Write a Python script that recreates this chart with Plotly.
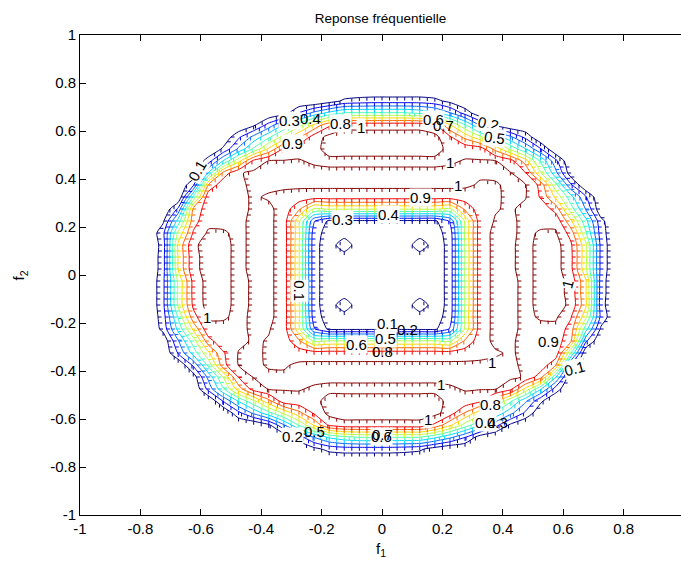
import plotly.graph_objects as go

# Frequency grid (normalised frequencies), cell centres every 0.05
f1 = [round(-0.775 + 0.05 * k, 3) for k in range(32)]
f2 = [round(-0.775 + 0.05 * k, 3) for k in range(32)]

# Magnitude of the frequency response for f2 > 0 (rows f2 = 0.025 ... 0.775);
# the response of a real filter satisfies |H(-f1,-f2)| = |H(f1,f2)|.
h_r00 = [0, 0.15, 0.71, 0.97, 1.04, 1.02, 0.98, 1.02, 1.02, 0.96, 0.61, 0.13, 0.05, 0.04, 0.03, 0.03,
         0.03, 0.03, 0.04, 0.05, 0.13, 0.61, 0.96, 1.02, 1.01, 0.98, 1.02, 1.04, 0.93, 0.62, 0.17, 0]
h_r01 = [0, 0.15, 0.71, 0.97, 1.04, 1.02, 0.98, 1.02, 1.02, 0.96, 0.61, 0.13, 0.05, 0.05, 0.04, 0.03,
         0.03, 0.04, 0.05, 0.05, 0.13, 0.61, 0.96, 1.02, 1.01, 0.98, 1.02, 1.04, 0.93, 0.62, 0.17, 0]
h_r02 = [0, 0.14, 0.72, 0.98, 1.04, 1.02, 0.98, 1.02, 1.02, 0.96, 0.61, 0.13, 0.05, 0.16, 0.04, 0.03,
         0.03, 0.04, 0.16, 0.05, 0.13, 0.61, 0.96, 1.02, 1.01, 0.98, 1.02, 1.04, 0.92, 0.62, 0.17, 0]
h_r03 = [0, 0.17, 0.62, 0.91, 1.015, 1.01, 0.98, 1.02, 1.02, 0.96, 0.62, 0.14, 0.06, 0.05, 0.05, 0.04,
         0.04, 0.05, 0.05, 0.06, 0.14, 0.62, 0.96, 1.02, 1.015, 0.98, 1.01, 1.01, 0.86, 0.51, 0.15, 0]
h_r04 = [0, 0.08, 0.44, 0.86, 0.97, 0.975, 0.98, 1.02, 1.02, 0.96, 0.62, 0.21, 0.08, 0.08, 0.08, 0.08,
         0.08, 0.08, 0.08, 0.08, 0.21, 0.62, 0.96, 1.005, 1.015, 0.98, 0.975, 0.975, 0.72, 0.43, 0.13, 0]
h_r05 = [0, 0, 0.22, 0.82, 0.96, 0.975, 0.98, 1.01, 1.02, 0.96, 0.82, 0.58, 0.61, 0.61, 0.61, 0.61,
         0.61, 0.61, 0.61, 0.61, 0.58, 0.82, 0.96, 0.995, 1.01, 0.98, 0.975, 0.86, 0.55, 0.29, 0.02, 0]
h_r06 = [0, 0, 0, 0.51, 0.975, 0.975, 0.98, 1.01, 0.99, 0.97, 0.955, 0.95, 0.95, 0.95, 0.95, 0.95,
         0.95, 0.95, 0.95, 0.95, 0.95, 0.955, 0.97, 0.99, 1.015, 1.005, 0.89, 0.68, 0.44, 0.21, 0, 0]
h_r07 = [0, 0, 0, 0.18, 0.81, 0.975, 0.98, 1.02, 1.02, 1.02, 1.02, 1.02, 1.02, 1.02, 1.02, 1.02,
         1.02, 1.02, 1.02, 1.02, 1.02, 1.015, 0.99, 0.995, 1.01, 1.005, 0.87, 0.53, 0.22, 0, 0, 0]
h_r08 = [0, 0, 0, 0.02, 0.41, 0.84, 0.99, 1.02, 1.02, 1.02, 1.02, 1.02, 1.02, 1.02, 1.02, 1.02,
         1.02, 1.02, 1.02, 1.02, 1.02, 1.02, 1.015, 1.01, 1.005, 0.905, 0.61, 0.33, 0.04, 0, 0, 0]
h_r09 = [0, 0, 0, 0, 0.15, 0.41, 0.67, 0.93, 1.005, 1.005, 1.005, 0.99, 0.98, 0.98, 0.98, 0.98,
         0.98, 0.98, 0.98, 0.98, 0.99, 1.005, 1.005, 1.005, 0.95, 0.75, 0.49, 0.23, 0, 0, 0, 0]
h_r10 = [0, 0, 0, 0, 0, 0.12, 0.32, 0.52, 0.72, 0.92, 0.975, 0.975, 1.03, 1.03, 1.03, 1.03,
         1.03, 1.03, 1.03, 1.03, 0.975, 0.975, 0.96, 0.77, 0.58, 0.41, 0.21, 0, 0, 0, 0, 0]
h_r11 = [0, 0, 0, 0, 0, 0.02, 0.18, 0.33, 0.48, 0.64, 0.79, 0.95, 1.03, 1.04, 1.04, 1.04,
         1.04, 1.04, 1.04, 1.03, 0.915, 0.77, 0.62, 0.47, 0.32, 0.17, 0, 0, 0, 0, 0, 0]
h_r12 = [0, 0, 0, 0, 0, 0, 0, 0.08, 0.24, 0.41, 0.56, 0.72, 0.88, 0.97, 0.97, 0.97,
         0.97, 0.97, 0.97, 0.92, 0.71, 0.51, 0.29, 0.08, 0, 0, 0, 0, 0, 0, 0, 0]
h_r13 = [0, 0, 0, 0, 0, 0, 0, 0, 0, 0.05, 0.21, 0.33, 0.43, 0.51, 0.51, 0.51,
         0.51, 0.51, 0.48, 0.42, 0.31, 0.16, 0.02, 0, 0, 0, 0, 0, 0, 0, 0, 0]
h_r14 = [0, 0, 0, 0, 0, 0, 0, 0, 0, 0, 0, 0, 0.05, 0.12, 0.14, 0.15,
         0.15, 0.15, 0.15, 0.13, 0.07, 0, 0, 0, 0, 0, 0, 0, 0, 0, 0, 0]
h_r15 = [0] * 32

upper_rows = [h_r00, h_r01, h_r02, h_r03, h_r04, h_r05, h_r06, h_r07,
              h_r08, h_r09, h_r10, h_r11, h_r12, h_r13, h_r14, h_r15]

# Lower half from the point symmetry of the magnitude response
lower_rows = [row[::-1] for row in reversed(upper_rows)]
H = lower_rows + upper_rows

# Contour levels 0.1, 0.2, ..., 1
levels = [round(0.1 * k, 1) for k in range(1, 11)]

# Axis ticks
x_ticks = [-1, -0.8, -0.6, -0.4, -0.2, 0, 0.2, 0.4, 0.6, 0.8]
x_tick_text = ["-1", "-0.8", "-0.6", "-0.4", "-0.2", "0", "0.2", "0.4", "0.6", "0.8"]
y_ticks = [-1, -0.8, -0.6, -0.4, -0.2, 0, 0.2, 0.4, 0.6, 0.8, 1]
y_tick_text = ["-1", "-0.8", "-0.6", "-0.4", "-0.2", "0", "0.2", "0.4", "0.6", "0.8", "1"]

# Inline contour labels: text, then placement (f1, f2, rotation, opaque background)
label_text = ["0.3", "0.4", "0.8", "1", "0.9", "0.1", "0.6", "0.7", "0.2", "0.5",
              "1", "1", "0.9", "0.4", "0.3", "0.1", "1", "0.1", "0.2", "0.6",
              "0.5", "0.8", "1", "1", "1", "0.8", "0.4", "0.3", "0.6", "0.7",
              "0.2", "0.5", "0.9", "0.1", "1"]
label_pos = [(-0.305, 0.642, 0, True), (-0.238, 0.654, 0, False), (-0.139, 0.633, 0, True),
             (-0.07, 0.613, 0, True), (-0.298, 0.546, 0, True), (-0.613, 0.4375, -60, True),
             (0.169, 0.65, 0, True), (0.202, 0.625, 0, False), (0.351, 0.633, 12, True),
             (0.371, 0.571, 8, True), (0.225, 0.467, 0, True), (0.252, 0.371, 0, True),
             (0.126, 0.321, 0, True), (0.02, 0.254, 0, True), (-0.132, 0.233, 0, True),
             (-0.272, -0.067, 90, True), (-0.579, -0.175, 0, True), (0.017, -0.204, 0, True),
             (0.086, -0.229, 0, False), (-0.083, -0.2875, 0, True), (0.01, -0.2625, 0, True),
             (0.0, -0.317, 0, False), (0.364, -0.3625, 0, True), (0.195, -0.458, 0, True),
             (0.152, -0.6, 0, True), (0.358, -0.5375, 0, True), (0.344, -0.6125, 0, True),
             (0.384, -0.6125, 0, False), (-0.003, -0.671, 0, True), (0.0, -0.6625, 0, False),
             (-0.295, -0.671, 0, True), (-0.225, -0.654, 0, False), (0.55, -0.275, 0, True),
             (0.636, -0.3875, -15, True), (0.613, -0.0375, -75, True)]

# MATLAB-style jet colour map
jet = [[0.0, (0, 0, 128)], [0.125, (0, 0, 255)], [0.375, (0, 255, 255)],
       [0.625, (255, 255, 0)], [0.875, (255, 0, 0)], [1.0, (128, 0, 0)]]
jet_scale = [[p, "rgb(%d,%d,%d)" % c] for p, c in jet]


def jet_color(t):
    t = min(max(t, 0.0), 1.0)
    for (p0, c0), (p1, c1) in zip(jet[:-1], jet[1:]):
        if t <= p1:
            u = (t - p0) / (p1 - p0)
            return "rgb(%d,%d,%d)" % tuple(round(a + u * (b - a)) for a, b in zip(c0, c1))
    return "rgb(128,0,0)"


# Pixel scale of the axes, used for the small ticks drawn along each contour
PX_X = 601 / 1.99
PX_Y = 480 / 2.0


def contour_segments(level):
    """Linear-interpolated contour segments of H, one cell at a time."""
    segs = []
    for i in range(len(f2) - 1):
        for j in range(len(f1) - 1):
            corners = [(f1[j], f2[i], H[i][j]), (f1[j + 1], f2[i], H[i][j + 1]),
                       (f1[j + 1], f2[i + 1], H[i + 1][j + 1]), (f1[j], f2[i + 1], H[i + 1][j])]
            pts = []
            for k in range(4):
                xa, ya, va = corners[k]
                xb, yb, vb = corners[(k + 1) % 4]
                if (va - level) * (vb - level) < 0:
                    t = (level - va) / (vb - va)
                    pts.append((xa + t * (xb - xa), ya + t * (yb - ya)))
            if len(pts) == 2:
                segs.append((pts[0], pts[1]))
            elif len(pts) == 4:
                segs.append((pts[0], pts[1]))
                segs.append((pts[2], pts[3]))
    return segs


FONT = "Liberation Sans, Arial, sans-serif"

fig = go.Figure()
fig.add_trace(go.Contour(
    x=f1, y=f2, z=H,
    colorscale=jet_scale, zmin=levels[0], zmax=levels[-1], zauto=False,
    autocontour=False,
    contours=dict(start=levels[0], end=levels[-1] + 1e-3, size=0.1,
                  coloring="lines", showlabels=False),
    line=dict(width=1, smoothing=0.6),
    showscale=False, hoverinfo="skip",
))

# Short one-sided ticks along the contour lines
# (to the right of steep lines, below flat ones)
TICK = 2.5
for lev in levels:
    col = jet_color((lev - levels[0]) / (levels[-1] - levels[0]))
    hx, hy, vx, vy = [], [], [], []
    seen = set()
    for (xa, ya), (xb, yb) in contour_segments(lev):
        dxp, dyp = (xb - xa) * PX_X, (yb - ya) * PX_Y
        steep = abs(dyp) > abs(dxp)
        spots = [(xa, ya)]
        if (dxp * dxp + dyp * dyp) ** 0.5 > 10:
            spots.append(((xa + xb) / 2, (ya + yb) / 2))
        for (px, py) in spots:
            key = (round(px, 4), round(py, 4))
            if key in seen:
                continue
            seen.add(key)
            if steep:
                hx.append(px + (TICK / 2 + 0.5) / PX_X)
                hy.append(py)
            else:
                vx.append(px)
                vy.append(py - (TICK / 2 + 0.5) / PX_Y)
    fig.add_trace(go.Scatter(x=hx, y=hy, mode="markers", hoverinfo="skip",
                             marker=dict(symbol="line-ew", size=TICK, color=col,
                                         line=dict(width=1, color=col))))
    fig.add_trace(go.Scatter(x=vx, y=vy, mode="markers", hoverinfo="skip",
                             marker=dict(symbol="line-ns", size=TICK, color=col,
                                         line=dict(width=1, color=col))))

for txt, (px, py, ang, opaque) in zip(label_text, label_pos):
    fig.add_annotation(x=px, y=py, xref="x", yref="y", text=txt, showarrow=False,
                       textangle=ang, font=dict(family=FONT, size=15, color="black"),
                       bgcolor="white" if opaque else "rgba(0,0,0,0)", borderpad=0)

fig.add_annotation(x=0.5, y=-0.095, xref="paper", yref="paper", text="f<sub>1</sub>",
                   showarrow=False, font=dict(family=FONT, size=15, color="black"))
fig.add_annotation(x=-0.12, y=0.5, xref="paper", yref="paper", text="f<sub>2</sub>",
                   showarrow=False, textangle=-90, font=dict(family=FONT, size=15, color="black"))

fig.update_layout(
    width=681, height=565,
    margin=dict(l=80, r=0, t=35, b=50),
    paper_bgcolor="white", plot_bgcolor="white",
    showlegend=False,
    title=dict(text="Reponse fréquentielle", x=0.5, xref="paper", xanchor="center",
               y=1 - 18 / 565, yref="container", yanchor="middle",
               font=dict(family=FONT, size=13.5, color="black")),
    xaxis=dict(range=[-1, 0.99], tickvals=x_ticks, ticktext=x_tick_text,
               ticks="inside", ticklen=6, tickcolor="black", showline=True,
               linecolor="black", linewidth=1, mirror="ticks", showgrid=False,
               zeroline=False, tickfont=dict(family=FONT, size=15, color="black")),
    yaxis=dict(range=[-1, 1], tickvals=y_ticks, ticktext=y_tick_text,
               ticks="inside", ticklen=6, tickcolor="black", showline=True,
               linecolor="black", linewidth=1, showgrid=False,
               zeroline=False, tickfont=dict(family=FONT, size=15, color="black")),
)

fig.write_html("out.html")
